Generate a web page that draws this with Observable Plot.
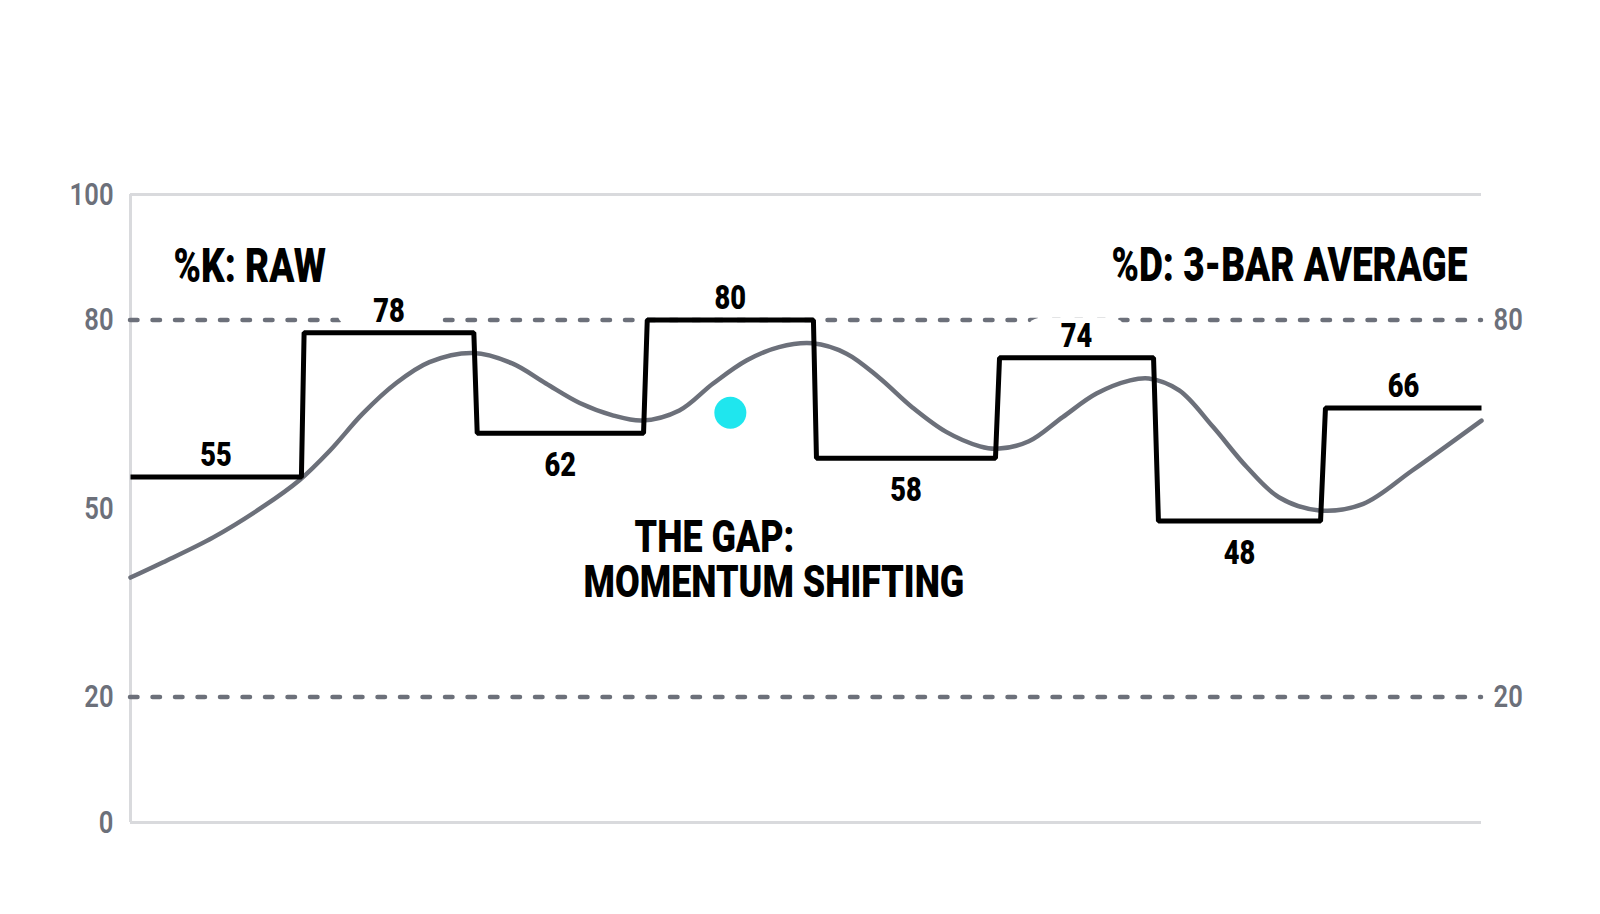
<!DOCTYPE html>
<html><head><meta charset="utf-8">
<script src="https://cdn.jsdelivr.net/npm/d3@7"></script>
<script src="https://cdn.jsdelivr.net/npm/@observablehq/plot@0.6"></script>
<style>
html,body{margin:0;padding:0;background:#fff;}
#chart{width:1600px;height:914px;overflow:hidden;}
</style></head><body><div id="chart"></div>
<script>
// %K raw step values and the bar positions where each step starts / ends
const kValues = [55, 78, 62, 80, 58, 74, 48, 66];
const kStart  = [0, 1.028, 2.053, 3.06, 4.062, 5.146, 6.087, 7.076];
const kEnd    = [1.012, 2.033, 3.038, 4.044, 5.122, 6.058, 7.047, 8];

// %D smoothed line
const dX      = [0, 0.19, 0.49, 0.78, 1.0, 1.18, 1.375, 1.57, 1.77, 2.03, 2.26, 2.46, 2.66, 2.86, 3.03, 3.25, 3.45, 3.65, 3.84, 4.04, 4.24, 4.43, 4.63, 4.83, 5.03, 5.13, 5.32, 5.52, 5.72, 5.92, 6.03, 6.21, 6.41, 6.61, 6.80, 7.04, 7.30, 7.59, 8.0];
const dValues = [39.0, 41.4, 45.4, 50.2, 54.5, 59.2, 65.1, 69.9, 73.3, 74.75, 73.1, 69.9, 66.8, 64.8, 64.0, 65.6, 69.9, 73.6, 75.7, 76.3, 74.65, 70.9, 66.1, 62.2, 59.9, 59.5, 60.7, 64.55, 68.3, 70.4, 70.7, 68.8, 63.0, 56.6, 51.8, 49.7, 50.75, 56.05, 64.0];

const yTicksLeft  = [0, 20, 50, 80, 100];
const yTicksRight = [20, 80];
const zoneLines   = [20, 80];
const frameLines  = [0, 100];

const titleTexts  = ["%K: RAW", "%D: 3-BAR AVERAGE"];
const titleX      = [0.255, 7.917];
const titleY      = [86.1, 86.3];
const titleAnchor = ["start", "end"];

const gapTexts = ["THE GAP:", "MOMENTUM SHIFTING"];
const gapX     = [3.458, 3.81];
const gapY     = [43.0, 35.9];
const gapDotSegment = 3;
const gapDotValue   = 65.25;

// horizontal squeeze per font size (the reference face is a condensed grotesque)
const squeezeBySize = {49: 0.755, 44: 0.815, 34: 0.8, 32: 0.8};

const kPath = kValues.flatMap((v, i) => [{x: kStart[i], y: v}, {x: kEnd[i], y: v}]);
const kLabels = kValues.map((v, i) => ({
  x: (kStart[i] + kEnd[i]) / 2, y: v, text: String(v),
  up: i === 0 || v > kValues[i - 1]
}));
const dPoints = dX.map((x, i) => ({x, y: dValues[i]}));
const titles = titleTexts.map((t, i) => ({text: t, x: titleX[i], y: titleY[i], anchor: titleAnchor[i]}));
const gapLabels = gapTexts.map((t, i) => ({text: t, x: gapX[i], y: gapY[i]}));
const gapDot = [{x: (kStart[gapDotSegment] + kEnd[gapDotSegment]) / 2, y: gapDotValue}];

const GRAY = "#6c707a";
const LIGHT = "#d9dadd";
const FONT = "Roboto, 'Noto Sans', 'Liberation Sans', sans-serif";

const plot = Plot.plot({
  width: 1600, height: 914,
  marginLeft: 130, marginRight: 119, marginTop: 194, marginBottom: 92,
  x: {domain: [0, 8], axis: null},
  y: {domain: [0, 100], axis: null},
  style: {fontFamily: FONT, background: "#fff", overflow: "visible"},
  marks: [
    Plot.ruleY(frameLines, {stroke: LIGHT, strokeWidth: 3}),
    Plot.ruleX([0], {y1: 0, y2: 100, stroke: LIGHT, strokeWidth: 3}),
    Plot.ruleY(zoneLines, {stroke: GRAY, strokeWidth: 4.5, strokeDasharray: "7.5,15", strokeLinecap: "round"}),
    Plot.rect(kLabels.filter(d => d.up), {
      x1: "x", x2: "x", y1: "y", y2: "y",
      insetLeft: -52, insetRight: -52, insetTop: -39.5, insetBottom: 4.5,
      rx: 17.5, fill: "#fff"
    }),
    Plot.line(dPoints, {x: "x", y: "y", curve: "catmull-rom", stroke: GRAY, strokeWidth: 4.5, strokeLinecap: "round"}),
    Plot.line(kPath, {x: "x", y: "y", stroke: "#000", strokeWidth: 5, strokeLinejoin: "miter", strokeLinecap: "butt"}),
    Plot.dot(gapDot, {x: "x", y: "y", r: 16, fill: "#1fe6ee", stroke: "none"}),
    Plot.text(kLabels.filter(d => d.up), {x: "x", y: "y", text: "text", dy: -11, lineAnchor: "bottom",
      fontSize: 34, fontWeight: 900, fill: "#000"}),
    Plot.text(kLabels.filter(d => !d.up), {x: "x", y: "y", text: "text", dy: 43, lineAnchor: "bottom",
      fontSize: 34, fontWeight: 900, fill: "#000"}),
    Plot.text(titles.filter(d => d.anchor === "start"), {x: "x", y: "y", text: "text", textAnchor: "start",
      lineAnchor: "bottom", fontSize: 49, fontWeight: 900, fill: "#000"}),
    Plot.text(titles.filter(d => d.anchor === "end"), {x: "x", y: "y", text: "text", textAnchor: "end",
      lineAnchor: "bottom", fontSize: 49, fontWeight: 900, fill: "#000"}),
    Plot.text(gapLabels, {x: "x", y: "y", text: "text", lineAnchor: "bottom",
      fontSize: 44, fontWeight: 900, fill: "#000"}),
    Plot.axisY({ticks: yTicksLeft, tickSize: 0, tickPadding: 17, fontSize: 32, fontWeight: 600,
      fill: GRAY, label: null, tickFormat: d => String(d)}),
    Plot.axisY({anchor: "right", ticks: yTicksRight, tickSize: 0, tickPadding: 12, fontSize: 32, fontWeight: 600,
      fill: GRAY, label: null, tickFormat: d => String(d)})
  ]
});

document.getElementById("chart").append(plot);
plot.querySelectorAll("text").forEach(t => {
  const w = t.getComputedTextLength();
  const size = parseFloat(getComputedStyle(t).fontSize);
  const sq = squeezeBySize[Math.round(size)] || 0.8;
  if (w > 0) {
    t.setAttribute("textLength", (w * sq).toFixed(2));
    t.setAttribute("lengthAdjust", "spacingAndGlyphs");
  }
});
</script>
</body></html>
